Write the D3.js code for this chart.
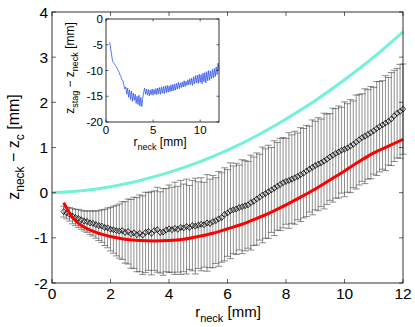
<!DOCTYPE html>
<html>
<head>
<meta charset="utf-8">
<script src="https://cdn.jsdelivr.net/npm/d3@7"></script>
<style>
  body { margin: 0; background: #fff; }
  svg { display: block; font-family: "Liberation Sans", Arial, sans-serif; }
</style>
</head>
<body>
<svg id="chart" width="415" height="327"></svg>
<script>
// neck radius grid [mm]
const rNeck = [
  0.4,0.5,0.6,0.7,0.8,0.9,1.0,1.1,1.2,1.3,1.4,1.5,1.6,1.7,1.8,1.9,2.0,2.1,2.2,2.3,
  2.4,2.5,2.6,2.7,2.8,2.9,3.0,3.1,3.2,3.3,3.4,3.5,3.6,3.7,3.8,3.9,4.0,4.1,4.2,4.3,
  4.4,4.5,4.6,4.7,4.8,4.9,5.0,5.1,5.2,5.3,5.4,5.5,5.6,5.7,5.8,5.9,6.0,6.1,6.2,6.3,
  6.4,6.5,6.6,6.7,6.8,6.9,7.0,7.1,7.2,7.3,7.4,7.5,7.6,7.7,7.8,7.9,8.0,8.1,8.2,8.3,
  8.4,8.5,8.6,8.7,8.8,8.9,9.0,9.1,9.2,9.3,9.4,9.5,9.6,9.7,9.8,9.9,10.0,10.1,10.2,10.3,
  10.4,10.5,10.6,10.7,10.8,10.9,11.0,11.1,11.2,11.3,11.4,11.5,11.6,11.7,11.8,11.9,12.0
];

// measured z_neck - z_c [mm]
const zMean = [
  -0.42,-0.45,-0.48,-0.52,-0.55,-0.57,-0.60,-0.63,-0.64,-0.67,-0.68,-0.71,-0.73,-0.74,-0.77,-0.78,-0.81,-0.82,-0.84,-0.85,
  -0.84,-0.88,-0.86,-0.91,-0.89,-0.93,-0.90,-0.94,-0.88,-0.86,-0.90,-0.84,-0.82,-0.88,-0.87,-0.83,-0.80,-0.82,-0.79,-0.81,
  -0.77,-0.78,-0.75,-0.77,-0.73,-0.74,-0.72,-0.70,-0.71,-0.67,-0.68,-0.64,-0.62,-0.58,-0.55,-0.48,-0.45,-0.40,-0.38,-0.36,
  -0.33,-0.31,-0.29,-0.27,-0.22,-0.19,-0.14,-0.10,-0.05,-0.02,0.02,0.06,0.10,0.14,0.18,0.22,0.25,0.27,0.30,0.33,
  0.36,0.40,0.43,0.48,0.52,0.56,0.60,0.63,0.66,0.70,0.74,0.79,0.83,0.87,0.90,0.94,0.96,0.99,1.03,1.07,
  1.12,1.17,1.22,1.25,1.29,1.33,1.37,1.42,1.46,1.50,1.54,1.58,1.63,1.70,1.76,1.80,1.85
];

// standard deviation of z_neck - z_c [mm]
const zErr = [
  0.12,0.13,0.15,0.17,0.18,0.20,0.21,0.22,0.24,0.26,0.28,0.30,0.33,0.36,0.40,0.44,0.48,0.52,0.56,0.60,
  0.64,0.68,0.72,0.76,0.79,0.82,0.85,0.87,0.89,0.86,0.92,0.88,0.94,0.90,0.96,0.92,0.97,0.94,1.02,0.95,
  1.04,0.97,1.05,0.93,1.00,1.06,0.96,1.03,0.94,1.07,0.98,1.02,0.95,1.05,0.99,1.03,0.96,1.06,0.97,1.01,
  0.94,1.04,1.00,0.96,1.05,0.98,1.02,0.95,1.06,0.99,1.03,0.94,1.05,0.97,1.02,1.00,0.95,1.06,0.98,1.03,
  0.96,1.04,0.99,1.01,0.95,1.05,0.98,1.03,0.97,1.06,1.00,0.96,1.04,0.99,1.02,0.95,1.05,0.98,1.03,0.96,
  1.04,1.00,0.97,1.05,0.99,1.02,0.96,1.04,1.00,0.98,1.05,0.97,1.03,1.01,0.99,1.04,1.00
];

// model curve (red)
const redR = [0.4,0.6,0.8,1.0,1.5,2.0,2.5,3.0,3.5,4.0,4.5,5.0,5.5,6.0,6.5,7.0,7.5,8.0,8.5,9.0,9.5,10.0,10.5,11.0,11.5,12.0];
const redZ = [-0.22,-0.45,-0.62,-0.72,-0.88,-0.97,-1.03,-1.06,-1.07,-1.06,-1.03,-0.97,-0.90,-0.80,-0.70,-0.57,-0.43,-0.27,-0.10,0.08,0.28,0.48,0.69,0.88,1.03,1.18];

// reference curve (cyan)
const cyanR = [0,1,2,3,4,5,6,7,8,9,10,11,12];
const cyanZ = [0,0.04,0.13,0.27,0.45,0.67,0.94,1.26,1.63,2.04,2.50,3.00,3.56];

// inset: z_stag - z_neck [mm]
const zStag = [
  -4.5,-5.8,-7.0,-8.2,-8.5,-8.7,-9.0,-9.3,-9.6,-10.0,-10.4,-10.9,-11.3,-11.8,-12.0,-12.9,-13.6,-13.2,-14.6,-13.4,
  -15.2,-13.8,-15.6,-14.0,-16.0,-14.4,-15.8,-14.6,-16.4,-15.0,-16.6,-14.8,-16.9,-15.2,-17.0,-15.4,-14.2,-13.4,-14.6,-13.6,
  -14.8,-13.7,-14.9,-13.8,-14.7,-13.6,-14.8,-13.7,-14.6,-13.5,-14.7,-13.4,-14.5,-13.3,-14.6,-13.2,-14.4,-13.1,-14.5,-13.0,
  -14.3,-12.9,-14.2,-13.0,-14.1,-12.8,-14.0,-12.7,-13.9,-12.6,-13.8,-12.5,-13.6,-12.3,-13.5,-12.4,-13.3,-12.2,-13.2,-12.0,
  -13.1,-12.1,-12.9,-11.8,-12.8,-11.6,-12.7,-11.5,-12.9,-11.2,-12.6,-11.0,-12.4,-10.9,-12.5,-10.7,-12.3,-10.8,-12.6,-10.5,
  -12.2,-10.4,-12.4,-10.2,-12.0,-10.0,-11.9,-10.1,-11.6,-9.8,-11.4,-9.6,-11.2,-9.3,-10.8,-8.6,-9.8
];

const xTicks = [0,2,4,6,8,10,12];
const yTicks = [-2,-1,0,1,2,3,4];
const insetXTicks = [0,5,10];
const insetYTicks = [-20,-15,-10,-5,0];

const svg = d3.select("#chart");
const m = { left: 52, right: 403, top: 12, bottom: 283 };

const x = d3.scaleLinear().domain([0, 12]).range([m.left, m.right]);
const y = d3.scaleLinear().domain([-2, 4]).range([m.bottom, m.top]);

const main = svg.append("g");

// error bars
const pts = rNeck.map((r, i) => ({ r, z: zMean[i], e: zErr[i] }));
const eb = main.append("g").attr("stroke", "#444").attr("stroke-width", 0.6).attr("fill", "none");
pts.forEach((d) => {
  const cx = x(d.r), y0 = y(d.z - d.e), y1 = y(d.z + d.e);
  eb.append("path").attr("d", `M${cx},${y0}V${y1}M${cx - 3.5},${y0}H${cx + 3.5}M${cx - 3.5},${y1}H${cx + 3.5}`);
});

// diamonds
main.append("g")
  .selectAll("path")
  .data(pts)
  .join("path")
  .attr("transform", (d) => `translate(${x(d.r)},${y(d.z)})`)
  .attr("d", "M0,-3L2.6,0L0,3L-2.6,0Z")
  .attr("fill", "none")
  .attr("stroke", "#000")
  .attr("stroke-width", 0.8);

const line = d3.line().x((d) => x(d[0])).y((d) => y(d[1])).curve(d3.curveMonotoneX);

main.append("path")
  .attr("d", line(redR.map((r, i) => [r, redZ[i]])))
  .attr("fill", "none").attr("stroke", "#ff0000").attr("stroke-width", 3);

main.append("path")
  .attr("d", line(cyanR.map((r, i) => [r, cyanZ[i]])))
  .attr("fill", "none").attr("stroke", "#72f2d8").attr("stroke-width", 3);

// box + inward ticks on all sides
function boxAxes(g, sx, sy, xt, yt, len, fs, xlabOff, ylabOff) {
  const [x0, x1] = sx.range();
  const [y0, y1] = sy.range();
  g.append("rect").attr("x", x0).attr("y", y1).attr("width", x1 - x0).attr("height", y0 - y1)
    .attr("fill", "none").attr("stroke", "#000").attr("stroke-width", 0.8);
  const t = g.append("g").attr("stroke", "#000").attr("stroke-width", 0.6);
  xt.forEach((v) => {
    t.append("line").attr("x1", sx(v)).attr("x2", sx(v)).attr("y1", y0).attr("y2", y0 - len);
    t.append("line").attr("x1", sx(v)).attr("x2", sx(v)).attr("y1", y1).attr("y2", y1 + len);
  });
  yt.forEach((v) => {
    t.append("line").attr("y1", sy(v)).attr("y2", sy(v)).attr("x1", x0).attr("x2", x0 + len);
    t.append("line").attr("y1", sy(v)).attr("y2", sy(v)).attr("x1", x1).attr("x2", x1 - len);
  });
  g.append("g").selectAll("text").data(xt).join("text")
    .attr("x", (v) => sx(v)).attr("y", y0 + xlabOff)
    .attr("text-anchor", "middle").attr("font-size", fs).text((v) => v);
  g.append("g").selectAll("text").data(yt).join("text")
    .attr("x", x0 - ylabOff).attr("y", (v) => sy(v)).attr("dy", "0.36em")
    .attr("text-anchor", "end").attr("font-size", fs).text((v) => v);
}

boxAxes(main, x, y, xTicks, yTicks, 4, 15.5, 16, 4);

// main axis labels
const xl = main.append("text").attr("x", 228).attr("y", 317).attr("text-anchor", "middle").attr("font-size", 15);
xl.append("tspan").text("r");
xl.append("tspan").attr("font-size", 11).attr("dy", 5).text("neck");
xl.append("tspan").attr("dy", -5).text(" [mm]");

const yl = main.append("text").attr("transform", "translate(19,147) rotate(-90)")
  .attr("text-anchor", "middle").attr("font-size", 16);
yl.append("tspan").text("z");
yl.append("tspan").attr("font-size", 12).attr("dy", 5).text("neck");
yl.append("tspan").attr("dy", -5).text(" \u2212 z");
yl.append("tspan").attr("font-size", 12).attr("dy", 5).text("c");
yl.append("tspan").attr("dy", -5).text(" [mm]");

// inset
const ix = d3.scaleLinear().domain([0, 12]).range([106, 219]);
const iy = d3.scaleLinear().domain([-20, 0]).range([122, 19]);
const inset = svg.append("g");
inset.append("rect").attr("x", 106).attr("y", 19).attr("width", 113).attr("height", 103).attr("fill", "#fff");

inset.append("path")
  .attr("d", d3.line().x((d, i) => ix(rNeck[i])).y((d) => iy(d))(zStag))
  .attr("fill", "none").attr("stroke", "#3355ee").attr("stroke-width", 0.8);

boxAxes(inset, ix, iy, insetXTicks, insetYTicks, 2.5, 11.5, 12, 3);

const ixl = inset.append("text").attr("x", 160).attr("y", 146).attr("text-anchor", "middle").attr("font-size", 12);
ixl.append("tspan").text("r");
ixl.append("tspan").attr("font-size", 9).attr("dy", 4).text("neck");
ixl.append("tspan").attr("dy", -4).text(" [mm]");

const iyl = inset.append("text").attr("transform", "translate(74,68) rotate(-90)")
  .attr("text-anchor", "middle").attr("font-size", 12);
iyl.append("tspan").text("z");
iyl.append("tspan").attr("font-size", 9).attr("dy", 4).text("stag");
iyl.append("tspan").attr("dy", -4).text(" \u2212 z");
iyl.append("tspan").attr("font-size", 9).attr("dy", 4).text("neck");
iyl.append("tspan").attr("dy", -4).text(" [mm]");
</script>
</body>
</html>
